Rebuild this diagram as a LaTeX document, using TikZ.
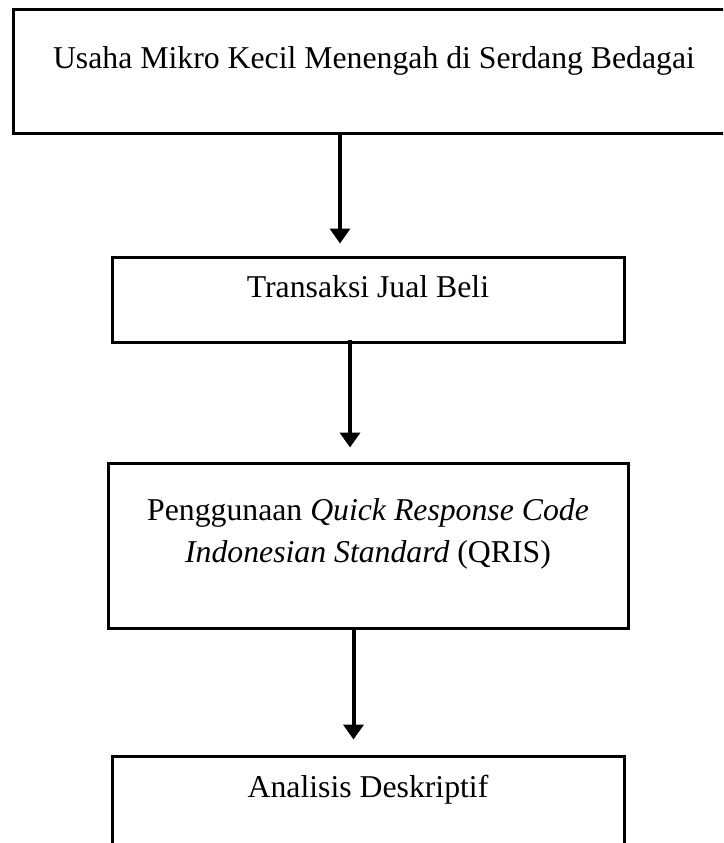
\documentclass[tikz,border=0pt]{standalone}
\usepackage{fontspec}
\setmainfont{Liberation Serif}
\usetikzlibrary{arrows.meta}
\tikzset{
  kotak/.style={draw, rectangle, line width=3pt, inner sep=0pt},
  teks/.style={anchor=base, inner sep=0pt, font=\fontsize{31.75}{40}\selectfont},
  panah/.style={line width=4pt, -{Triangle[width=20pt,length=15pt]}}
}
\begin{document}
\begin{tikzpicture}[x=1pt,y=-1pt]
					\clip (0,0) rectangle (723,843);
					\node[kotak, minimum width=722pt, minimum height=123pt] (k1) at (374,71.5) {};
					\node[kotak, minimum width=512pt, minimum height=85pt]  (k2) at (368,299.5) {};
					\node[kotak, minimum width=520pt, minimum height=165pt] (k3) at (368,545.5) {};
					\node[kotak, minimum width=512pt, minimum height=200pt] (k4) at (368,856) {};
					%
					\node[teks] (t1) at (374,68)  {Usaha Mikro Kecil Menengah di Serdang Bedagai};
					\node[teks] (t2) at (368,297) {Transaksi Jual Beli};
					\node[teks] (t3) at (368,520) {Penggunaan \textit{Quick Response Code}};
					\node[teks] (t4) at (368,562) {\textit{Indonesian Standard} (QRIS)};
					\node[teks] (t5) at (368,797) {Analisis Deskriptif};
					%
					\draw[panah] ([xshift=-34pt]k1.south) -- ([xshift=-28pt,yshift=12pt]k2.north);
					\draw[panah] ([xshift=-18pt,yshift=4pt]k2.south) -- ([xshift=-18pt,yshift=14pt]k3.north);
					\draw[panah] ([xshift=-14.5pt]k3.south) -- ([xshift=-14.5pt,yshift=15pt]k4.north);
				\end{tikzpicture}
\end{document}
